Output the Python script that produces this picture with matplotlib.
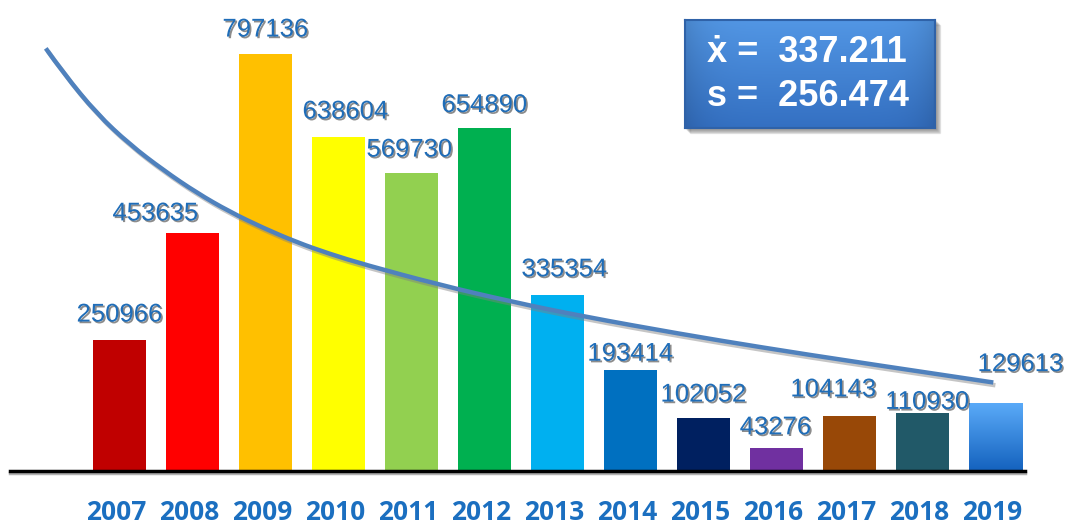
import matplotlib
matplotlib.use('Agg')
import matplotlib.pyplot as plt
import matplotlib.patheffects as pe
from matplotlib.patches import Rectangle, PathPatch
from matplotlib.path import Path
from matplotlib.colors import to_rgb
import numpy as np

# data
years = ['2007', '2008', '2009', '2010', '2011', '2012', '2013',
         '2014', '2015', '2016', '2017', '2018', '2019']
values = [250966, 453635, 797136, 638604, 569730, 654890, 335354,
          193414, 102052, 43276, 104143, 110930, 129613]
bar_colors = ['#C00000', '#FF0000', '#FFC000', '#FFFF00', '#92D050', '#00B050', '#00B0F0',
              '#0070C0', '#002060', '#7030A0', '#984807', '#215968', '#4A9BEB']

# trend curve (bar index, value)
trend_x = [-1.01, -0.77, -0.31, 0.14, 0.60, 1.06, 1.51, 1.97, 2.43, 2.88,
           3.36, 4.36, 5.38, 6.35, 7.68, 8.77, 10.14, 11.97]
trend_y = [807000, 760000, 682000, 623500, 574500, 531000, 495000, 464000, 436700, 414500,
           394000, 356300, 323000, 295200, 261800, 236600, 207000, 169000]

mean_txt = 'ẋ =  337.211'
sd_txt = 's =  256.474'

# label offsets in pixels (dx, dy to label centre)
lab_dx = [0, -37, 0, 7, -2, 0, 7, 0, 0, -1, -16, 5, 25]
lab_dy = [27, 22, 26, 27, 25, 25, 28, 18, 25, 23, 29, 13, 41]

W, H = 1068, 525
fig = plt.figure(figsize=(W/100, H/100), dpi=100)
ax = fig.add_axes([0, 54/H, 1, 471/H])
ax.set_xlim(-119.5/73, (W-119.5)/73)
ax.set_ylim(0, 471/523.7*1e6)
ax.axis('off')

x = np.arange(len(years))
bars = ax.bar(x, values, width=0.73, color=bar_colors, zorder=2)

# gradient on the last bar
last = bars[-1]
last.set_facecolor('none')
top_c = np.array(to_rgb('#5AAAF8'))
bot_c = np.array(to_rgb('#1462BE'))
t = np.linspace(0, 1, 100)[:, None]
grad = top_c*(1-t) + bot_c*t
grad = np.repeat(grad[:, None, :], 2, axis=1)
im = ax.imshow(grad, extent=[x[-1]-0.365, x[-1]+0.365, 0, values[-1]],
               aspect='auto', zorder=2)
im.set_clip_path(last)

# axis line
ax.axhline(0, xmin=10/W, xmax=1025/W, color='black', lw=2.5, clip_on=False, zorder=3,
           path_effects=[pe.SimpleLineShadow(offset=(0, -1.5), shadow_color='gray', alpha=0.6),
                         pe.Normal()])

# trend curve, smoothed through the read points
pts = np.column_stack([trend_x, trend_y])
verts = [pts[0]]
codes = [Path.MOVETO]
n = len(pts)
for i in range(1, n-1):
    end = pts[-1] if i == n-2 else (pts[i] + pts[i+1]) / 2
    verts += [pts[i], end]
    codes += [Path.CURVE3, Path.CURVE3]
curve = PathPatch(Path(verts, codes), facecolor='none', edgecolor='#4F81BD', lw=3.2,
                  capstyle='butt', zorder=4,
                  path_effects=[pe.SimpleLineShadow(offset=(1.5, -2), shadow_color='gray', alpha=0.45),
                                pe.Normal()])
ax.add_patch(curve)

# value labels
txt_fx = [pe.SimplePatchShadow(offset=(1.2, -1.2), shadow_rgbFace='black', alpha=0.45), pe.Normal()]
for i, v in enumerate(values):
    ax.annotate(str(v), (x[i], v), xytext=(lab_dx[i], lab_dy[i]-9), textcoords='offset pixels',
                ha='center', va='baseline', fontsize=18.5, color='#1F6DB8',
                family=['Liberation Sans', 'DejaVu Sans'], path_effects=txt_fx, zorder=5)

# year labels
for i, yr in enumerate(years):
    ax.annotate(yr, (x[i], 0), xytext=(-3, -49), textcoords='offset pixels',
                ha='center', va='baseline', fontsize=19, fontweight='bold',
                color='#1B6FC0', family=['Open Sans', 'DejaVu Sans'], annotation_clip=False)

# stats box
bx, by, bw, bh = 685, 20, 250, 108
for k in range(1, 6):
    fig.patches.append(Rectangle(((bx+k)/W, (H-by-bh-k)/H), bw/W, bh/H,
                                 transform=fig.transFigure, color='black', alpha=0.08, zorder=-1))
bax = fig.add_axes([bx/W, (H-by-bh)/H, bw/W, bh/H])
c_top = np.array(to_rgb('#5296E4'))
c_bot = np.array(to_rgb('#3470C2'))
tv = np.linspace(0, 1, 60)[:, None, None]
th = np.linspace(-1, 1, 120)[None, :, None]
box_img = (c_top*(1-tv) + c_bot*tv) * (1 - 0.12*np.abs(th)**6)
bax.imshow(np.clip(box_img, 0, 1), aspect='auto', extent=[0, 1, 0, 1])
bax.set_xticks([])
bax.set_yticks([])
for s in bax.spines.values():
    s.set_color('#2F62A8')
    s.set_linewidth(1.5)

fig.text(707/W, (H-53)/H, mean_txt, ha='left', va='center', fontsize=26, fontweight='bold',
         color='white', family=['Liberation Sans', 'DejaVu Sans'], zorder=10)
fig.text(707/W, (H-97)/H, sd_txt, ha='left', va='center', fontsize=26, fontweight='bold',
         color='white', family=['Liberation Sans', 'DejaVu Sans'], zorder=10)

fig.savefig('out.png', dpi=100)
